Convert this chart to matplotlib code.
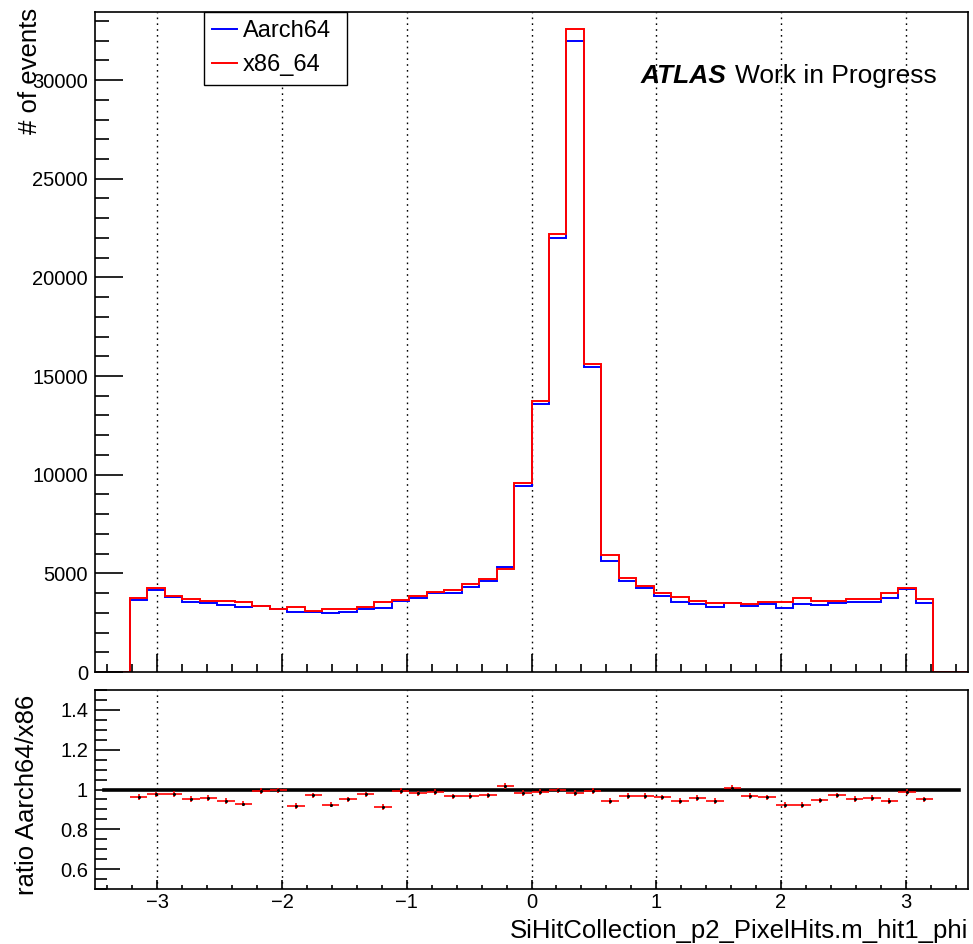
import numpy as np
import matplotlib
matplotlib.use("Agg")
import matplotlib.pyplot as plt
from matplotlib.ticker import MultipleLocator
from matplotlib.patches import Rectangle

plt.rcParams['font.family'] = ['Liberation Sans', 'DejaVu Sans']

# 50 bins from -3.5 to 3.5
bin_edges = np.linspace(-3.5, 3.5, 51)

aarch64 = [0, 0,
           3627, 4169, 3797, 3525, 3475, 3407, 3305, 3322, 3170, 3017,
           3017, 2983, 3051, 3203, 3237, 3610, 3746, 3983, 3983, 4305,
           4610, 5305, 9430, 13600, 22000, 31980, 15450, 5627, 4610, 4254,
           3864, 3559, 3441, 3288, 3491, 3339, 3424, 3254, 3424, 3390,
           3491, 3525, 3525, 3763, 4220, 3508,
           0, 0]
x86_64 = [0, 0,
          3746, 4271, 3864, 3695, 3610, 3610, 3542, 3339, 3186, 3271,
          3102, 3203, 3186, 3271, 3559, 3644, 3847, 4051, 4136, 4475,
          4729, 5220, 9580, 13750, 22200, 32575, 15600, 5949, 4746, 4373,
          4017, 3780, 3593, 3508, 3475, 3441, 3559, 3559, 3729, 3610,
          3610, 3712, 3678, 4017, 4271, 3678,
          0, 0]

# ratio Aarch64/x86 for the filled bins (index 2..47)
ratio = [0.963, 0.975, 0.978, 0.953, 0.958, 0.941, 0.929, 0.992, 0.995, 0.916,
         0.970, 0.924, 0.950, 0.975, 0.911, 0.992, 0.980, 0.988, 0.965, 0.966,
         0.970, 1.017, 0.982, 0.988, 0.995, 0.982, 0.993, 0.941, 0.968, 0.968,
         0.960, 0.941, 0.956, 0.941, 1.010, 0.968, 0.960, 0.923, 0.923, 0.945,
         0.970, 0.953, 0.956, 0.941, 0.987, 0.950]
ratio_err = [0.014] * len(ratio)

x_major = [-3, -2, -1, 0, 1, 2, 3]
x_labels = ['\u22123', '\u22122', '\u22121', '0', '1', '2', '3']

W, H = 973, 944
fig = plt.figure(figsize=(W / 100, H / 100), dpi=100)

def px_axes(l, t, r, b):
    return fig.add_axes([l / W, 1 - b / H, (r - l) / W, (b - t) / H])

ax = px_axes(95, 12, 968, 672)
axr = px_axes(95, 690, 968, 889)

centers = 0.5 * (bin_edges[:-1] + bin_edges[1:])

ax.stairs(aarch64, bin_edges, color='#0000ff', lw=1.4, label='Aarch64')
ax.stairs(x86_64, bin_edges, color='#ff0000', lw=1.4, label='x86_64')
ax.set_xlim(-3.5, 3.5)
ax.set_ylim(0, 33450)
for xv in x_major:
    ax.axvline(xv, color='black', lw=1.0, ls=(0, (1.2, 3)), zorder=0)
ax.xaxis.set_major_locator(MultipleLocator(1))
ax.xaxis.set_minor_locator(MultipleLocator(0.2))
ax.yaxis.set_major_locator(MultipleLocator(5000))
ax.yaxis.set_minor_locator(MultipleLocator(1000))
ax.tick_params(axis='both', which='both', direction='in', top=False, right=False,
               width=1.2, color='black')
ax.tick_params(axis='y', which='major', length=20, labelsize=14.5, pad=5)
ax.tick_params(axis='y', which='minor', length=10)
ax.tick_params(axis='x', which='major', length=13, labelbottom=False)
ax.tick_params(axis='x', which='minor', length=6)
for s in ax.spines.values():
    s.set_linewidth(1.2)

# legend box (ROOT style, with extra room on the right)
ax.add_patch(Rectangle((204 / W, 1 - 85 / H), (347 - 204) / W, (85 - 12) / H,
                       transform=fig.transFigure, facecolor='white',
                       edgecolor='black', lw=1.0, zorder=5, clip_on=False))
leg = ax.legend(loc='upper left', bbox_to_anchor=(205 / W, 1 - 13 / H),
                bbox_transform=fig.transFigure, fontsize=17, frameon=False,
                handlelength=1.05, handletextpad=0.25, labelspacing=0.5,
                borderpad=0.3, borderaxespad=0)
leg.set_zorder(6)

fig.text(641 / W, 1 - 76 / H, 'ATLAS', fontsize=19, fontweight='bold',
         fontstyle='italic', ha='left', va='center')
fig.text(735 / W, 1 - 76 / H, 'Work in Progress', fontsize=19,
         ha='left', va='center')

# ratio panel
rc = centers[2:48]
axr.errorbar(rc, ratio, xerr=0.07, yerr=ratio_err, fmt='none', ecolor='#ff0000',
             elinewidth=1.2, zorder=3)
axr.plot(rc, ratio, ls='none', marker='o', ms=1.2, color='black', zorder=4)
axr.plot([centers[0], centers[-1]], [1, 1], color='black', lw=2.6, zorder=2)
axr.set_xlim(-3.5, 3.5)
axr.set_ylim(0.5, 1.5)
for xv in x_major:
    axr.axvline(xv, color='black', lw=1.0, ls=(0, (1.2, 3)), zorder=0)
axr.xaxis.set_minor_locator(MultipleLocator(0.2))
axr.yaxis.set_minor_locator(MultipleLocator(0.05))
axr.set_yticks([0.6, 0.8, 1.0, 1.2, 1.4])
axr.set_yticklabels(['0.6', '0.8', '1', '1.2', '1.4'])
axr.set_xticks(x_major)
axr.set_xticklabels(x_labels)
axr.tick_params(axis='both', which='both', direction='in', top=False, right=False,
                width=1.2, color='black')
axr.tick_params(axis='y', which='major', length=18, labelsize=14.5, pad=5)
axr.tick_params(axis='y', which='minor', length=8.6)
axr.tick_params(axis='x', which='major', length=6.5, labelsize=14.5, pad=3)
axr.tick_params(axis='x', which='minor', length=3)
for s in axr.spines.values():
    s.set_linewidth(1.2)

fig.text(30 / W, 1 - 8 / H, '# of events', rotation=90, fontsize=18.5,
         ha='center', va='top')
fig.text(27 / W, 1 - 695 / H, 'ratio Aarch64/x86', rotation=90, fontsize=18.5,
         ha='center', va='top')
fig.text(968 / W, 1 - 938 / H, 'SiHitCollection_p2_PixelHits.m_hit1_phi',
         fontsize=18.5, ha='right', va='baseline')

fig.savefig('out.png', dpi=100)
